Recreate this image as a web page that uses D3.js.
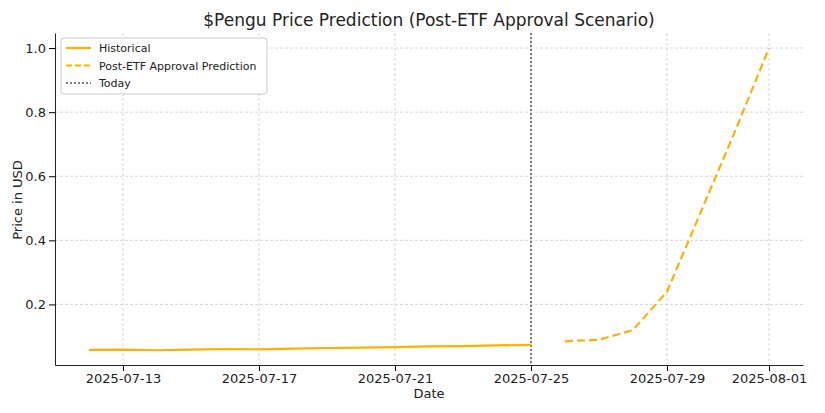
<!DOCTYPE html><html><head><meta charset="utf-8"><script src="https://cdn.jsdelivr.net/npm/d3@7"></script>
<style>body{margin:0;background:#fff}text{font-family:"DejaVu Sans",sans-serif}</style></head><body><svg id="c" width="825" height="413"></svg><script>
const histDates=["2025-07-12","2025-07-13","2025-07-14","2025-07-15","2025-07-16","2025-07-17","2025-07-18","2025-07-19","2025-07-20","2025-07-21","2025-07-22","2025-07-23","2025-07-24","2025-07-25"];
const histValues=[0.058,0.059,0.057,0.059,0.061,0.060,0.062,0.064,0.065,0.067,0.069,0.070,0.072,0.074];
const predDates=["2025-07-26","2025-07-27","2025-07-28","2025-07-29","2025-07-30","2025-07-31","2025-08-01"];
const predValues=[0.085,0.09,0.12,0.24,0.49,0.74,1.0];
const todayDate="2025-07-25";
const xTicks=["2025-07-13","2025-07-17","2025-07-21","2025-07-25","2025-07-29","2025-08-01"];
const yTicks=[0.2,0.4,0.6,0.8,1.0];
const p=d3.timeParse("%Y-%m-%d");
const svg=d3.select("#c");
const L=55,R=803,T=33,B=365;
const x=d3.scaleTime().domain([p("2025-07-11"),p("2025-08-02")]).range([L,R]);
const y=d3.scaleLinear().domain([0.011,1.047]).range([B,T]);
const g=svg.append("g");
g.selectAll(".gx").data(xTicks).join("line").attr("x1",d=>x(p(d))).attr("x2",d=>x(p(d))).attr("y1",T).attr("y2",B).attr("stroke","#ccc").attr("stroke-dasharray","3,2").attr("stroke-width",0.8);
g.selectAll(".gy").data(yTicks).join("line").attr("x1",L).attr("x2",R).attr("y1",d=>y(d)).attr("y2",d=>y(d)).attr("stroke","#ccc").attr("stroke-dasharray","3,2").attr("stroke-width",0.8);
svg.append("g").attr("transform",`translate(0,${B})`).call(d3.axisBottom(x).tickValues(xTicks.map(p)).tickFormat(d3.timeFormat("%Y-%m-%d")).tickSizeOuter(0)).call(a=>{a.selectAll("text").attr("font-size",13).attr("fill","#222");a.select(".domain").attr("stroke","#222")});
svg.append("g").attr("transform",`translate(${L},0)`).call(d3.axisLeft(y).tickValues(yTicks).tickFormat(d3.format(".1f")).tickSizeOuter(0)).call(a=>{a.selectAll("text").attr("font-size",13).attr("fill","#222");a.select(".domain").attr("stroke","#222")});
const line=d3.line().x(d=>x(p(d[0]))).y(d=>y(d[1]));
svg.append("line").attr("x1",x(p(todayDate))).attr("x2",x(p(todayDate))).attr("y1",T).attr("y2",B).attr("stroke","#555").attr("stroke-dasharray","2,2").attr("stroke-width",1.5);
svg.append("path").attr("d",line(d3.zip(histDates,histValues))).attr("fill","none").attr("stroke","#FFB000").attr("stroke-width",2.2);
svg.append("path").attr("d",line(d3.zip(predDates,predValues))).attr("fill","none").attr("stroke","#FFB000").attr("stroke-width",2.2).attr("stroke-dasharray","8,4");
svg.append("text").attr("x",(L+R)/2).attr("y",26).attr("text-anchor","middle").attr("font-size",17).attr("fill","#222").text("$Pengu Price Prediction (Post-ETF Approval Scenario)");
svg.append("text").attr("x",(L+R)/2).attr("y",398).attr("text-anchor","middle").attr("font-size",13).attr("fill","#222").text("Date");
svg.append("text").attr("transform","translate(22,200) rotate(-90)").attr("text-anchor","middle").attr("font-size",13).attr("fill","#222").text("Price in USD");
const lg=svg.append("g").attr("transform","translate(61,38)");
lg.append("rect").attr("width",206).attr("height",56).attr("rx",3).attr("fill","#fff").attr("stroke","#ccc");
const items=[["Historical","#FFB000",null],["Post-ETF Approval Prediction","#FFB000","6,3"],["Today","#555","2,2"]];
items.forEach((it,i)=>{const yy=10+i*17.5;lg.append("line").attr("x1",5).attr("x2",30).attr("y1",yy).attr("y2",yy).attr("stroke",it[1]).attr("stroke-width",it[0]=="Today"?1.5:2.2).attr("stroke-dasharray",it[2]);
lg.append("text").attr("x",38).attr("y",yy+4).attr("font-size",11).attr("fill","#222").text(it[0]);});
</script></body></html>
